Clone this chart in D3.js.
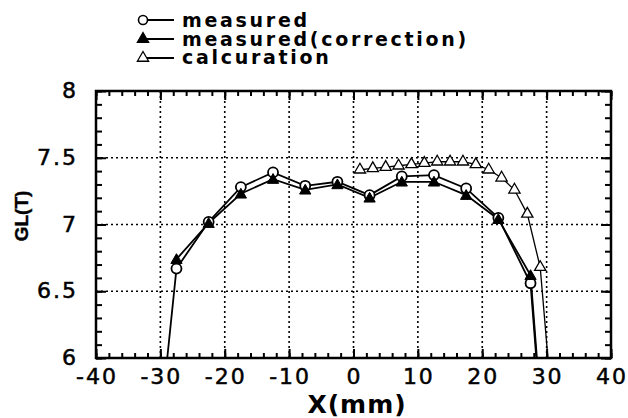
<!DOCTYPE html>
<html><head><meta charset="utf-8">
<script src="https://cdn.jsdelivr.net/npm/d3@7"></script>
<style>html,body{margin:0;padding:0;background:#fff;}svg{display:block;}</style>
</head><body>
<svg id="c" width="628" height="418"></svg>
<script>
const measX = [-30, -27.5, -22.5, -17.5, -12.5, -7.5, -2.5, 2.5, 7.5, 12.5, 17.5, 22.5, 27.5, 30];
const measured = [5.5, 6.67, 7.02, 7.28, 7.39, 7.29, 7.32, 7.22, 7.36, 7.37, 7.27, 7.05, 6.56, 5.0];
const corrX = [-27.5, -22.5, -17.5, -12.5, -7.5, -2.5, 2.5, 7.5, 12.5, 17.5, 22.5, 27.5, 30];
const corrected = [6.74, 7.01, 7.23, 7.34, 7.26, 7.30, 7.20, 7.32, 7.32, 7.22, 7.04, 6.62, 5.05];
const calcX = [1, 3, 5, 7, 9, 11, 13, 15, 17, 19, 21, 23, 25, 27, 29, 31];
const calcuration = [7.41, 7.42, 7.43, 7.44, 7.45, 7.46, 7.47, 7.47, 7.47, 7.45, 7.41, 7.35, 7.26, 7.08, 6.68, 5.55];
// markers are not drawn for off-chart end points
const xTicks = [-40, -30, -20, -10, 0, 10, 20, 30, 40];
const yTicks = [6, 6.5, 7, 7.5, 8];
const legendLabels = ["measured", "measured(correction)", "calcuration"];

const svg = d3.select("#c");
const L = 96, R = 611, T = 91, B = 358;
const x = d3.scaleLinear().domain([-40, 40]).range([L, R]);
const y = d3.scaleLinear().domain([6, 8]).range([B, T]);

svg.append("defs").append("clipPath").attr("id", "pc")
  .append("rect").attr("x", L).attr("y", T).attr("width", R - L).attr("height", B - T);

// grid
const grid = svg.append("g").attr("stroke", "#000").attr("stroke-width", 1.6).attr("stroke-dasharray", "2,3");
xTicks.slice(1, -1).forEach(v => grid.append("line").attr("x1", x(v)).attr("x2", x(v)).attr("y1", T).attr("y2", B));
yTicks.slice(1, -1).forEach(v => grid.append("line").attr("x1", L).attr("x2", R).attr("y1", y(v)).attr("y2", y(v)));

// axes with inward ticks
const axB = d3.axisBottom(x).tickValues(d3.range(-40, 40.01, 2)).tickSize(-5).tickFormat("");
const axT = d3.axisTop(x).tickValues(d3.range(-40, 40.01, 2)).tickSize(-5).tickFormat("");
const axLm = d3.axisLeft(y).tickValues(d3.range(6, 8.001, 0.1)).tickSize(-6).tickFormat("");
const axRm = d3.axisRight(y).tickValues(d3.range(6, 8.001, 0.1)).tickSize(-6).tickFormat("");
const axBM = d3.axisBottom(x).tickValues(xTicks).tickSize(-9).tickFormat("");
const axTM = d3.axisTop(x).tickValues(xTicks).tickSize(-9).tickFormat("");
const axLM = d3.axisLeft(y).tickValues(yTicks).tickSize(-10).tickFormat("");
const axRM = d3.axisRight(y).tickValues(yTicks).tickSize(-10).tickFormat("");
[[axB, `translate(0,${B})`], [axT, `translate(0,${T})`], [axLm, `translate(${L},0)`], [axRm, `translate(${R},0)`],
 [axBM, `translate(0,${B})`], [axTM, `translate(0,${T})`], [axLM, `translate(${L},0)`], [axRM, `translate(${R},0)`]]
 .forEach(([a, tr]) => {
  const g = svg.append("g").attr("transform", tr).call(a);
  g.select(".domain").remove();
  g.selectAll(".tick line").attr("stroke", "#000").attr("stroke-width", 2);
 });
svg.append("rect").attr("x", L).attr("y", T).attr("width", R - L).attr("height", B - T)
  .attr("fill", "none").attr("stroke", "#000").attr("stroke-width", 2.5);

// tick labels
const tl = svg.append("g").attr("font-family", "DejaVu Sans, sans-serif").attr("font-size", 22)
  .attr("fill", "#000").attr("stroke", "#000").attr("stroke-width", 0.5);
xTicks.forEach(v => tl.append("text").attr("x", x(v) + 1).attr("y", 384).attr("text-anchor", "middle")
  .attr("letter-spacing", 2).text(v));
yTicks.forEach(v => tl.append("text").attr("x", 78).attr("y", y(v) + 7).attr("text-anchor", "end")
  .attr("letter-spacing", 2).text(v));

// titles
svg.append("text").attr("x", 357).attr("y", 413).attr("text-anchor", "middle")
  .attr("font-family", "DejaVu Sans, sans-serif").attr("font-weight", "bold").attr("font-size", 25)
  .attr("letter-spacing", 1).text("X(mm)");
svg.append("text").attr("transform", "translate(28,216) rotate(-90)").attr("text-anchor", "middle")
  .attr("font-family", "Liberation Sans, Arial, sans-serif").attr("font-weight", "bold").attr("font-size", 19)
  .attr("stroke", "#000").attr("stroke-width", 0.4).text("GL(T)");

// series
const plot = svg.append("g").attr("clip-path", "url(#pc)");
const line = d3.line().x(d => x(d[0])).y(d => y(d[1]));
const zip = (xs, ys) => xs.map((v, i) => [v, ys[i]]);
const sMeas = zip(measX, measured), sCorr = zip(corrX, corrected), sCalc = zip(calcX, calcuration);
const inside = d => d[1] >= 6;

plot.append("path").datum(sCalc).attr("d", line).attr("fill", "none").attr("stroke", "#000").attr("stroke-width", 1.3);
plot.append("path").datum(sCorr).attr("d", line).attr("fill", "none").attr("stroke", "#000").attr("stroke-width", 1.8);
plot.append("path").datum(sMeas).attr("d", line).attr("fill", "none").attr("stroke", "#000").attr("stroke-width", 1.8);

const triUp = d3.symbol().type(d3.symbolTriangle).size(55);
plot.selectAll(".calc").data(sCalc.filter(inside)).join("path")
  .attr("transform", d => `translate(${x(d[0])},${y(d[1])})`).attr("d", triUp)
  .attr("fill", "#fff").attr("stroke", "#000").attr("stroke-width", 1.3);
plot.selectAll(".meas").data(sMeas.filter(inside)).join("circle")
  .attr("cx", d => x(d[0])).attr("cy", d => y(d[1])).attr("r", 5)
  .attr("fill", "#fff").attr("stroke", "#000").attr("stroke-width", 1.8);
plot.selectAll(".corr").data(sCorr.filter(inside)).join("path")
  .attr("transform", d => `translate(${x(d[0])},${y(d[1]) + 1})`).attr("d", triUp)
  .attr("fill", "#000").attr("stroke", "#000").attr("stroke-width", 1);

// legend
const lg = svg.append("g");
const rowsY = [20, 39, 58];
const baseY = [27, 45.5, 64];
rowsY.forEach((ry, i) => {
  lg.append("line").attr("x1", 140).attr("x2", 174).attr("y1", ry).attr("y2", ry).attr("stroke", "#000").attr("stroke-width", 1.8);
  if (i === 0) lg.append("circle").attr("cx", 143).attr("cy", ry).attr("r", 4.5).attr("fill", "#fff").attr("stroke", "#000").attr("stroke-width", 1.6);
  else lg.append("path").attr("transform", `translate(143,${ry})`).attr("d", triUp)
    .attr("fill", i === 1 ? "#000" : "#fff").attr("stroke", "#000").attr("stroke-width", 1.3);
  lg.append("text").attr("x", 182).attr("y", baseY[i]).attr("font-family", "DejaVu Sans, sans-serif")
    .attr("font-weight", "bold").attr("font-size", 19).attr("letter-spacing", 2.7).text(legendLabels[i]);
});
</script>
</body></html>
